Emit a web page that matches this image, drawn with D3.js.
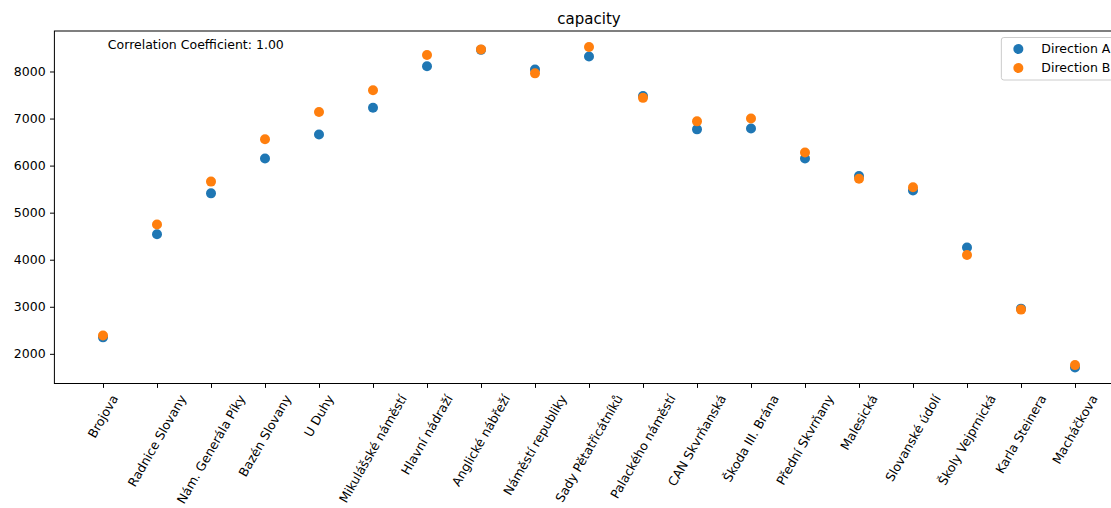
<!DOCTYPE html>
<html>
<head>
<meta charset="utf-8">
<script src="https://cdn.jsdelivr.net/npm/d3@7"></script>
<style>
  body { margin: 0; background: #fff; }
  svg { font-family: "DejaVu Sans", sans-serif; }
</style>
</head>
<body>
<div id="chart"></div>
<script>
// stops along the line, in order
const stops = [
    "Brojova", "Radnice Slovany", "Nám. Generála Píky", "Bazén Slovany", "U Duhy",
    "Mikulášské náměstí", "Hlavní nádraží", "Anglické nábřeží", "Náměstí republiky",
    "Sady Pětatřicátníků", "Palackého náměstí", "CAN Skvrňanská", "Škoda III. Brána",
    "Přední Skvrňany", "Malesická", "Slovanské údolí", "Školy Vejprnická",
    "Karla Steinera", "Macháčkova"
];

const directionA = [2350, 4540, 5410, 6150, 6660, 7230, 8110, 8460, 8040, 8320,
    7480, 6770, 6790, 6150, 5780, 5470, 4260, 2960, 1710];
const directionB = [2390, 4750, 5660, 6560, 7140, 7600, 8350, 8470, 7960, 8520,
    7440, 6940, 7000, 6280, 5720, 5540, 4100, 2940, 1760];

const seriesNames = ["Direction A", "Direction B"];
const seriesColors = ["#1f77b4", "#ff7f0e"];
const title = "capacity";
const corrLabel = "Correlation Coefficient: 1.00";

const width = 1111, height = 508;
const margin = {top: 31, left: 54.4, bottom: 383.5, right: 1123.6};
const fs = 12.5;

const svg = d3.select("#chart").append("svg")
    .attr("width", width)
    .attr("height", height);

const x = d3.scalePoint(stops, [margin.left, margin.right]).padding(0.9);

const all = directionA.concat(directionB);
const [lo, hi] = d3.extent(all);
const pad = (hi - lo) * 0.05;
const y = d3.scaleLinear([lo - pad, hi + pad], [margin.bottom, margin.top]);

// frame
svg.append("rect")
    .attr("x", margin.left)
    .attr("y", margin.top)
    .attr("width", margin.right - margin.left)
    .attr("height", margin.bottom - margin.top)
    .attr("fill", "none")
    .attr("stroke", "#000")
    .attr("stroke-width", 1);

// y axis
const yAxis = svg.append("g")
    .attr("transform", `translate(${margin.left},0)`)
    .call(d3.axisLeft(y).tickFormat(d3.format("d")).tickSize(4.4).tickPadding(4.4).tickSizeOuter(0));
yAxis.select(".domain").remove();
yAxis.selectAll("text").attr("font-size", fs).attr("fill", "#000").attr("font-family", "DejaVu Sans");

// x axis
const xAxis = svg.append("g")
    .attr("transform", `translate(0,${margin.bottom})`)
    .call(d3.axisBottom(x).tickSize(4.4).tickSizeOuter(0));
xAxis.select(".domain").remove();
xAxis.selectAll("text").remove();

const labelTop = margin.bottom + 4.4 + 4.4;
const ang = Math.PI / 3;
const xl = svg.append("g")
    .attr("font-size", fs)
    .attr("fill", "#000");
stops.forEach(s => {
    const t = xl.append("text")
        .attr("text-anchor", "middle")
        .attr("dy", "0.35em")
        .text(s);
    const len = t.node().getComputedTextLength();
    const h = fs * 1.16;
    const boxH = len * Math.sin(ang) + h * Math.cos(ang);
    t.attr("transform", `translate(${x(s)},${labelTop + boxH / 2}) rotate(-60)`);
});

// points
[directionA, directionB].forEach((vals, i) => {
    svg.append("g")
        .selectAll("circle")
        .data(vals)
        .join("circle")
        .attr("cx", (d, j) => x(stops[j]))
        .attr("cy", d => y(d))
        .attr("r", 5)
        .attr("fill", seriesColors[i]);
});

// title
svg.append("text")
    .attr("x", (margin.left + margin.right) / 2)
    .attr("y", margin.top - 7.5)
    .attr("text-anchor", "middle")
    .attr("font-size", 15)
    .text(title);

// correlation annotation
svg.append("text")
    .attr("x", margin.left + 0.05 * (margin.right - margin.left))
    .attr("y", margin.top + 0.05 * (margin.bottom - margin.top))
    .attr("font-size", fs)
    .text(corrLabel);

// legend
const legW = 116, legH = 42.5;
const legX = margin.right - 6.25 - legW, legY = margin.top + 6.5;
const legend = svg.append("g").attr("transform", `translate(${legX},${legY})`);
legend.append("rect")
    .attr("width", legW)
    .attr("height", legH)
    .attr("rx", 2.5)
    .attr("fill", "#fff")
    .attr("fill-opacity", 0.8)
    .attr("stroke", "#cccccc");
seriesNames.forEach((name, i) => {
    const row = legend.append("g").attr("transform", `translate(0,${11.5 + i * 19})`);
    row.append("circle")
        .attr("cx", 17)
        .attr("cy", 0)
        .attr("r", 5)
        .attr("fill", seriesColors[i]);
    row.append("text")
        .attr("x", 40)
        .attr("dy", "0.35em")
        .attr("font-size", fs)
        .text(name);
});
</script>
</body>
</html>
